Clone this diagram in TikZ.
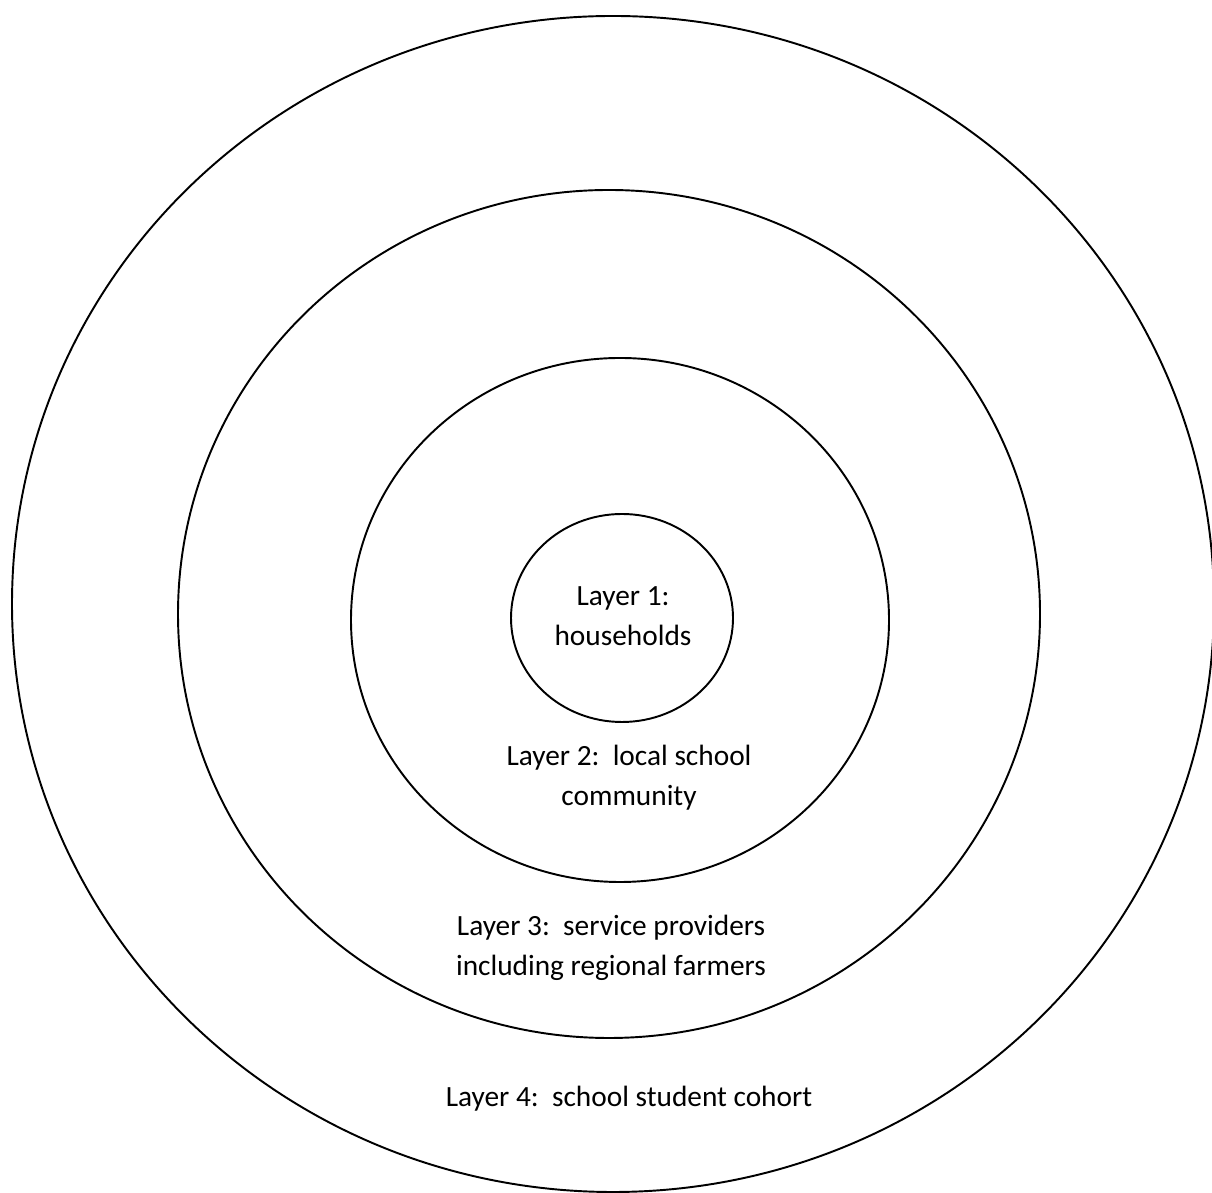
\documentclass[tikz,border=0pt]{standalone}
\usepackage{fontspec}
\setmainfont{Carlito}
\usetikzlibrary{positioning}
\tikzset{every picture/.style={line width=1.1pt},layer/.style={align=center,inner sep=0pt,font=\fontsize{16.7pt}{22.7pt}\selectfont}}

\begin{document}
\begin{tikzpicture}[x=0.02cm,y=0.02cm]
\useasboundingbox (0,0) rectangle (1212,1192);
\draw (613,588) ellipse [x radius=601, y radius=588];
\draw (609,578) ellipse [x radius=431, y radius=424];
\draw (620,572) ellipse [x radius=269, y radius=262];
\draw (622,574) ellipse [x radius=111, y radius=104];
\node[layer] (layerone) at (623,576) {Layer 1:\\households};
\node[layer] (layertwo) at (629,414) {Layer 2:~~local school\\community};
\node[layer] (layerthree) at (611,244) {Layer 3:~~service providers\\including regional farmers};
\node[layer] (layerfour) at (629,93) {Layer 4:~~school student cohort};
\end{tikzpicture}
\end{document}
